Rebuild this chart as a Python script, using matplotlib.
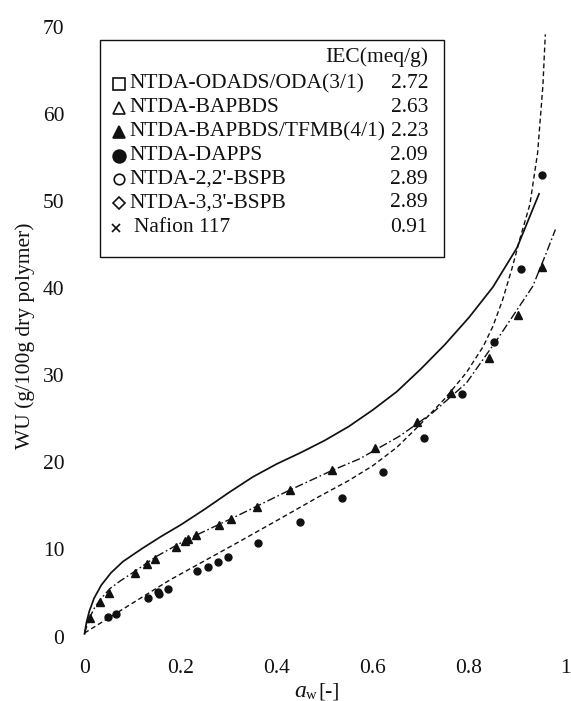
import matplotlib
matplotlib.use("Agg")
import matplotlib.pyplot as plt
from matplotlib.lines import Line2D
from matplotlib.patches import Rectangle

# ---------------- data ----------------
# NTDA-BAPBDS/TFMB(4/1) (filled triangles)
tri_x = [0.011, 0.032, 0.051, 0.105, 0.131, 0.147, 0.190, 0.209, 0.216, 0.232,
         0.280, 0.304, 0.358, 0.427, 0.516, 0.605, 0.693, 0.763, 0.841, 0.903, 0.953]
tri_y = [2.1, 4.0, 5.0, 7.3, 8.3, 8.9, 10.3, 11.0, 11.2, 11.7,
         12.8, 13.5, 14.9, 16.8, 19.1, 21.6, 24.6, 28.0, 32.0, 36.9, 42.4]

# NTDA-DAPPS (filled circles)
cir_x = [0.049, 0.065, 0.133, 0.153, 0.156, 0.173, 0.235, 0.256, 0.278, 0.299,
         0.361, 0.448, 0.536, 0.621, 0.706, 0.786, 0.852, 0.909, 0.953]
cir_y = [2.2, 2.6, 4.4, 5.1, 4.9, 5.5, 7.5, 8.0, 8.6, 9.1,
         10.7, 13.1, 15.9, 18.9, 22.8, 27.8, 33.8, 42.2, 53.0]

# solid curve
sol_x = [0.0, 0.004, 0.010, 0.020, 0.035, 0.055, 0.080, 0.120, 0.160, 0.200,
         0.250, 0.300, 0.350, 0.400, 0.450, 0.500, 0.550, 0.600, 0.650, 0.700,
         0.750, 0.800, 0.850, 0.900, 0.946]
sol_y = [0.3, 1.6, 2.9, 4.4, 5.9, 7.3, 8.6, 10.1, 11.5, 12.8,
         14.6, 16.5, 18.3, 19.8, 21.1, 22.5, 24.1, 26.0, 28.1, 30.7,
         33.5, 36.6, 40.1, 44.6, 50.8]

# dashed curve
das_x = [0.0, 0.067, 0.178, 0.316, 0.400, 0.483, 0.550, 0.600, 0.650, 0.698,
         0.750, 0.795, 0.830, 0.850, 0.870, 0.890, 0.906, 0.927, 0.943, 0.954, 0.959]
das_y = [0.4, 2.7, 6.5, 10.7, 13.3, 15.9, 17.9, 19.6, 21.7, 24.3,
         27.3, 30.3, 33.3, 35.6, 38.6, 42.3, 45.6, 49.6, 55.5, 63.2, 69.1]

# dash-dot curve
dd_x = [0.0, 0.005, 0.011, 0.020, 0.032, 0.053, 0.075, 0.100, 0.150, 0.212,
        0.316, 0.427, 0.517, 0.573, 0.656, 0.725, 0.795, 0.864, 0.933, 0.961, 0.980]
dd_y = [0.3, 1.3, 2.2, 3.2, 4.2, 5.5, 6.4, 7.3, 9.2, 11.1,
        13.8, 16.8, 19.1, 20.4, 23.0, 25.7, 29.1, 34.5, 40.2, 44.0, 46.7]

# legend
leg_names = ["NTDA-ODADS/ODA(3/1)", "NTDA-BAPBDS", "NTDA-BAPBDS/TFMB(4/1)",
             "NTDA-DAPPS", "NTDA-2,2'-BSPB", "NTDA-3,3'-BSPB", "Nafion 117"]
leg_iec = ["2.72", "2.63", "2.23", "2.09", "2.89", "2.89", "0.91"]
leg_header = "IEC(meq/g)"

x_ticks = [0, 0.2, 0.4, 0.6, 0.8, 1.0]
x_ticklabels = ["0", "0.2", "0.4", "0.6", "0.8", "1"]
y_ticks = [0, 10, 20, 30, 40, 50, 60, 70]
y_ticklabels = [str(v) for v in y_ticks]

# ---------------- figure ----------------
W, H = 571, 701
plt.rcParams["font.family"] = ["Liberation Serif", "DejaVu Serif"]
plt.rcParams["mathtext.fontset"] = "custom"
plt.rcParams["mathtext.rm"] = "Liberation Serif"
plt.rcParams["mathtext.it"] = "Liberation Serif:italic"

fig = plt.figure(figsize=(W / 100, H / 100), dpi=100)

def F(px, py):
    return px / W, 1 - py / H

x0, x1 = 84.5, 565.0
y0, y70 = 636.5, 26.5
ax = fig.add_axes([x0 / W, 1 - y0 / H, (x1 - x0) / W, (y0 - y70) / H])
ax.set_xlim(0, 1)
ax.set_ylim(0, 70)
for s in ax.spines.values():
    s.set_visible(False)
ax.set_xticks(x_ticks)
ax.set_xticklabels(x_ticklabels)
ax.set_yticks(y_ticks)
ax.set_yticklabels(y_ticklabels)
ax.tick_params(axis="both", length=0, labelsize=15.5, colors="#111111")
ax.tick_params(axis="x", pad=16)
ax.tick_params(axis="y", pad=14.5)

ink = "#111111"
ax.plot(sol_x, sol_y, "-", color=ink, lw=1.25, clip_on=False)
ax.plot(das_x, das_y, color=ink, lw=1.0, linestyle=(0, (3.5, 2.2)), clip_on=False)
ax.plot(dd_x, dd_y, color=ink, lw=1.0, linestyle=(0, (6, 2, 1.2, 2)), clip_on=False)
ax.plot(tri_x, tri_y, "^", color=ink, ms=6.2, ls="none", clip_on=False)
ax.plot(cir_x, cir_y, "o", color=ink, ms=5.0, ls="none", clip_on=False)

# axis labels
fig.text(*F(25.5, 336), "WU (g/100g dry polymer)", rotation=90,
         ha="center", va="center", fontsize=15.5, color=ink)
fig.text(*F(294, 697), r"$a$", ha="left", va="baseline", fontsize=17, color=ink)
fig.text(*F(306, 699), "w", ha="left", va="baseline", fontsize=10.5, color=ink)
fig.text(*F(318, 697), "[-]", ha="left", va="baseline", fontsize=15.5, color=ink)

# legend box
bx0, by0, bx1, by1 = 100, 40, 444, 257
fx0, fy1 = F(bx0, by0)
fx1, fy0 = F(bx1, by1)
fig.add_artist(Rectangle((fx0, fy0), fx1 - fx0, fy1 - fy0, transform=fig.transFigure,
                         fill=False, ec=ink, lw=1.0))
fig.text(*F(428, 57), leg_header, ha="right", va="center", fontsize=15.5, color=ink)

row_y = [84, 108, 131.5, 155.5, 179, 203, 228]
markers = [("s", 8.0, "none"), ("^", 8.0, "none"), ("^", 8.0, ink), ("o", 9.2, ink),
           ("o", 7.6, "none"), ("D", 6.0, "none"), ("x", 5.4, ink)]
for i, (name, iec) in enumerate(zip(leg_names, leg_iec)):
    ry = row_y[i]
    mk, ms, fc = markers[i]
    mx = 116 if mk == "x" else 119
    fx, fy = F(mx, ry)
    fig.add_artist(Line2D([fx], [fy], marker=mk, ms=ms, mfc=fc, mec=ink, mew=1.2,
                          ls="none", transform=fig.transFigure))
    tx = 134 if mk == "x" else 129
    fig.text(*F(tx, ry), name, ha="left", va="center", fontsize=15.5, color=ink)
    fig.text(*F(428, ry), iec, ha="right", va="center", fontsize=15.5, color=ink)

fig.savefig("out.png", dpi=100)
